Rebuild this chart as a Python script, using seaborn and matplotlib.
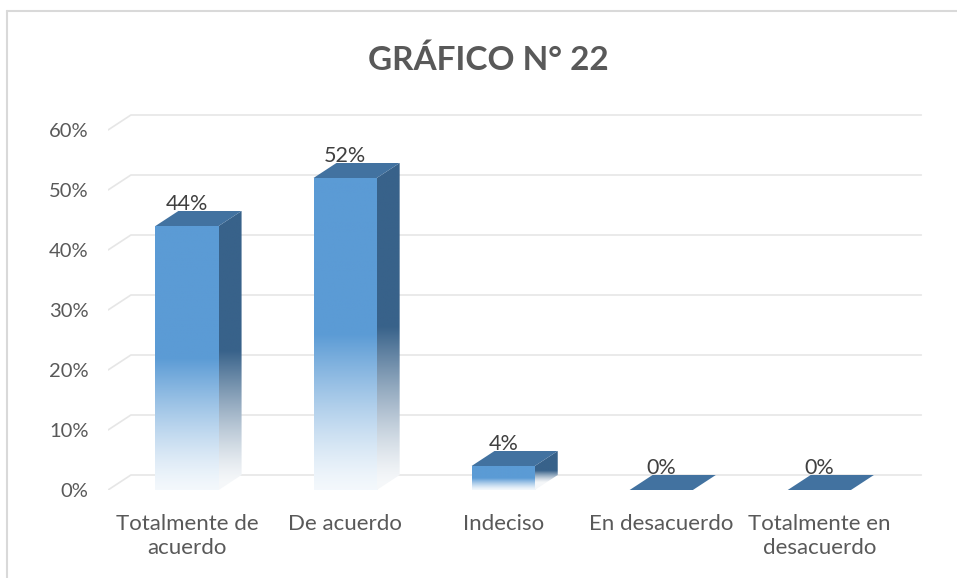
import numpy as np
import pandas as pd
import seaborn as sns
import matplotlib.pyplot as plt
from matplotlib.patches import Polygon
from matplotlib.lines import Line2D

categorias = ['Totalmente de\nacuerdo', 'De acuerdo', 'Indeciso', 'En desacuerdo', 'Totalmente en\ndesacuerdo']
valores = [44, 52, 4, 0, 0]
etiquetas = ['44%', '52%', '4%', '0%', '0%']
ticks_y = [0, 10, 20, 30, 40, 50, 60]

frente = np.array([0x5B, 0x9B, 0xD5]) / 255.0
lado = np.array([0x38, 0x62, 0x8A]) / 255.0
tapa = '#4272A0'
gris = '#595959'
dx, dy = 0.145, 2.5

sns.set_style('white')
plt.rcParams['font.family'] = ['Lato', 'DejaVu Sans']

fig = plt.figure(figsize=(9.57, 5.78), dpi=100)
ax = fig.add_axes([108 / 957, (578 - 490) / 578, 822 / 957, 384 / 578])

df = pd.DataFrame({'cat': categorias, 'val': valores})
sns.barplot(data=df, x='cat', y='val', color=frente, width=0.4, ax=ax, zorder=3)

ax.set_xlim(-0.5, 4.7)
ax.set_ylim(0, 64)

# rejilla en el plano del fondo
for t in ticks_y:
	ax.plot([-0.5, -0.5 + dx, 4.5 + dx], [t, t + dy, t + dy], color='#E6E6E6', lw=1.2, zorder=1)

for p, v in zip(ax.patches, valores):
	x0 = p.get_x()
	x1 = x0 + p.get_width()
	p.set_facecolor('none')
	p.set_edgecolor('none')
	if v > 0:
		# cara frontal: solida arriba, se desvanece en la mitad inferior
		n = 200
		f = np.linspace(0, 1, n)[:, None]
		w = np.clip(f / 0.5, 0, 1)
		w = 0.07 + 0.93 * w ** 1.3
		img = np.ones((n, 2, 3)) * (1 - w[:, :, None]) + frente * w[:, :, None]
		im = ax.imshow(img, extent=[x0, x1, 0, v], origin='lower', aspect='auto', zorder=3, interpolation='bilinear')
		im.set_clip_path(p)
		# cara lateral
		lat = Polygon([(x1, 0), (x1 + dx, dy), (x1 + dx, v + dy), (x1, v)], closed=True, facecolor='none', edgecolor='none', zorder=3)
		ax.add_patch(lat)
		g = np.linspace(0, 1, n)[:, None]
		wl = np.clip((g * (v + dy) - dy * 0.5) / (0.5 * v), 0, 1)
		wl = 0.05 + 0.95 * wl ** 1.3
		img2 = np.ones((n, 2, 3)) * (1 - wl[:, :, None]) + lado * wl[:, :, None]
		im2 = ax.imshow(img2, extent=[x1, x1 + dx, 0, v + dy], origin='lower', aspect='auto', zorder=3, interpolation='bilinear')
		im2.set_clip_path(lat)
	# tapa
	ax.add_patch(Polygon([(x0, v), (x0 + dx, v + dy), (x1 + dx, v + dy), (x1, v)], closed=True,
						 facecolor=tapa, edgecolor='none', zorder=4))

for i, (v, lab) in enumerate(zip(valores, etiquetas)):
	ax.text(i, v + dy + 0.2, lab, ha='center', va='baseline', fontsize=15.5, color='#404040', zorder=5)

ax.set_xlim(-0.5, 4.7)
ax.set_ylim(0, 64)
ax.set_yticks(ticks_y)
ax.set_yticklabels([str(t) + '%' for t in ticks_y])
ax.set_xticks(range(len(categorias)))
ax.set_xticklabels(categorias, linespacing=1.25)
ax.set_xlabel('')
ax.set_ylabel('')
ax.tick_params(axis='y', length=0, pad=14, labelsize=14.5, labelcolor=gris)
ax.tick_params(axis='x', length=0, pad=17, labelsize=16, labelcolor=gris)
for s in ax.spines.values():
	s.set_visible(False)

fig.text(488 / 957, 1 - 60 / 578, 'GRÁFICO N° 22', ha='center', va='center', fontsize=24, fontweight='bold', color=gris)

# borde del area del grafico
fig.add_artist(Line2D([7 / 957, 1], [1 - 11 / 578, 1 - 11 / 578], color='#D9D9D9', lw=1.5))
fig.add_artist(Line2D([7 / 957, 7 / 957], [0, 1 - 11 / 578], color='#D9D9D9', lw=1.5))

plt.savefig('out.png', dpi=100)
